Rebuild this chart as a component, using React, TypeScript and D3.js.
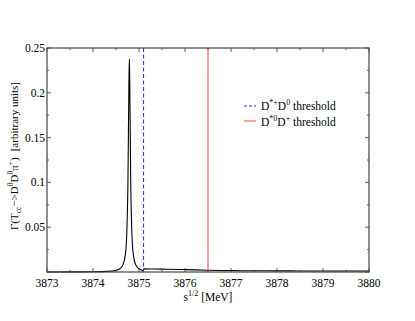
import React from "react";
import * as d3 from "d3";

const energies = [
  3873, 3873.5, 3874.0, 3874.3, 3874.5, 3874.6, 3874.65, 3874.7, 3874.73, 3874.76,
  3874.78, 3874.79, 3874.8, 3874.82, 3874.85, 3874.88, 3874.93, 3874.98, 3875.05,
  3875.09, 3875.11, 3875.3, 3875.6, 3876.0, 3876.5, 3877.0, 3877.5, 3878.0, 3878.5,
  3879.0, 3879.5, 3880.0,
];
const widths = [
  0.00005, 0.0001, 0.00026, 0.00067, 0.0019, 0.0044, 0.0079, 0.0183, 0.0376, 0.102,
  0.207, 0.238, 0.207, 0.102, 0.0376, 0.0183, 0.0079, 0.0044, 0.0024,
  0.0015, 0.0035, 0.0034, 0.0031, 0.0027, 0.002, 0.0016, 0.0014, 0.0013, 0.0012,
  0.0012, 0.0012, 0.0012,
];
const xTicks = [3873, 3874, 3875, 3876, 3877, 3878, 3879, 3880];
const yTicks = [0.05, 0.1, 0.15, 0.2, 0.25];
const thresholdDstarPlusD0 = 3875.1;
const thresholdDstar0DPlus = 3876.5;

const W = 415, H = 321;
const L = 47, R = 369, T = 48, B = 272;

export default function App() {
  const x = d3.scaleLinear().domain([3873, 3880]).range([L, R]);
  const y = d3.scaleLinear().domain([0, 0.25]).range([B, T]);
  const pts = energies.map((e, i) => [e, widths[i]] as [number, number]);
  const line = d3.line<[number, number]>().x(d => x(d[0])).y(d => y(d[1])).curve(d3.curveMonotoneX);
  const minorX = d3.range(3873, 3880.01, 0.5);
  const minorY = d3.range(0, 0.2501, 0.025);
  const font = "'Liberation Serif', 'Times New Roman', serif";
  return (
    <svg width={W} height={H} style={{ position: "absolute", left: 0, top: 0, background: "#fff" }} fontFamily={font}>
      {/* curve */}
      <path d={line(pts) || ""} fill="none" stroke="#000" strokeWidth={1.1} />
      {/* thresholds */}
      <line x1={x(thresholdDstarPlusD0)} x2={x(thresholdDstarPlusD0)} y1={T} y2={B} stroke="#2020ee" strokeWidth={1} strokeDasharray="4,2.5" />
      <line x1={x(thresholdDstar0DPlus)} x2={x(thresholdDstar0DPlus)} y1={T} y2={B} stroke="#ff5a5a" strokeWidth={1.2} />
      {/* ticks */}
      {minorX.map((v, i) => {
        const major = Math.abs(v - Math.round(v)) < 1e-6;
        const len = major ? 4 : 2;
        return (
          <g key={"xt" + i} stroke="#333" strokeWidth={0.8}>
            <line x1={x(v)} x2={x(v)} y1={B} y2={B - len} />
            <line x1={x(v)} x2={x(v)} y1={T} y2={T + len} />
          </g>
        );
      })}
      {minorY.map((v, i) => {
        const major = Math.abs(v / 0.05 - Math.round(v / 0.05)) < 1e-6;
        const len = major ? 4 : 2;
        return (
          <g key={"yt" + i} stroke="#333" strokeWidth={0.8}>
            <line x1={L} x2={L + len} y1={y(v)} y2={y(v)} />
            <line x1={R} x2={R - len} y1={y(v)} y2={y(v)} />
          </g>
        );
      })}
      {/* frame */}
      <rect x={L} y={T} width={R - L} height={B - T} fill="none" stroke="#444" strokeWidth={1.2} />
      {/* tick labels */}
      {xTicks.map(v => (
        <text key={"xl" + v} x={x(v)} y={287} textAnchor="middle" fontSize={11.5} fill="#000">{v}</text>
      ))}
      {yTicks.map(v => (
        <text key={"yl" + v} x={L - 2} y={y(v) + 4} textAnchor="end" fontSize={11.5} fill="#000">{String(v)}</text>
      ))}
      {/* x label */}
      <text x={208} y={301} textAnchor="middle" fontSize={11.5} fill="#000">
        s<tspan dy={-5} fontSize={8}>1/2</tspan><tspan dy={5}> [MeV]</tspan>
      </text>
      {/* y label */}
      <text transform={`translate(18,156) rotate(-90)`} textAnchor="middle" fontSize={11} fill="#000">
        Γ(T<tspan dy={3} fontSize={7.5}>cc</tspan><tspan dy={-3}>−&gt;D</tspan><tspan dy={-5} fontSize={7.5}>0</tspan><tspan dy={5}>D</tspan><tspan dy={-5} fontSize={7.5}>0</tspan><tspan dy={5}>π</tspan><tspan dy={-5} fontSize={7.5}>+</tspan><tspan dy={5}>)</tspan><tspan dx={6}>[arbitrary units]</tspan>
      </text>
      {/* legend */}
      <line x1={244} x2={256} y1={106} y2={106} stroke="#2020ee" strokeWidth={1} strokeDasharray="3,2" />
      <text x={261} y={110} fontSize={11.5} fill="#000">
        D<tspan dy={-5} fontSize={8}>*+</tspan><tspan dy={5}>D</tspan><tspan dy={-5} fontSize={8}>0</tspan><tspan dy={5}> threshold</tspan>
      </text>
      <line x1={244} x2={256} y1={121} y2={121} stroke="#ff5a5a" strokeWidth={1.2} />
      <text x={261} y={126} fontSize={11.5} fill="#000">
        D<tspan dy={-5} fontSize={8}>*0</tspan><tspan dy={5}>D</tspan><tspan dy={-5} fontSize={8}>+</tspan><tspan dy={5}> threshold</tspan>
      </text>
    </svg>
  );
}
